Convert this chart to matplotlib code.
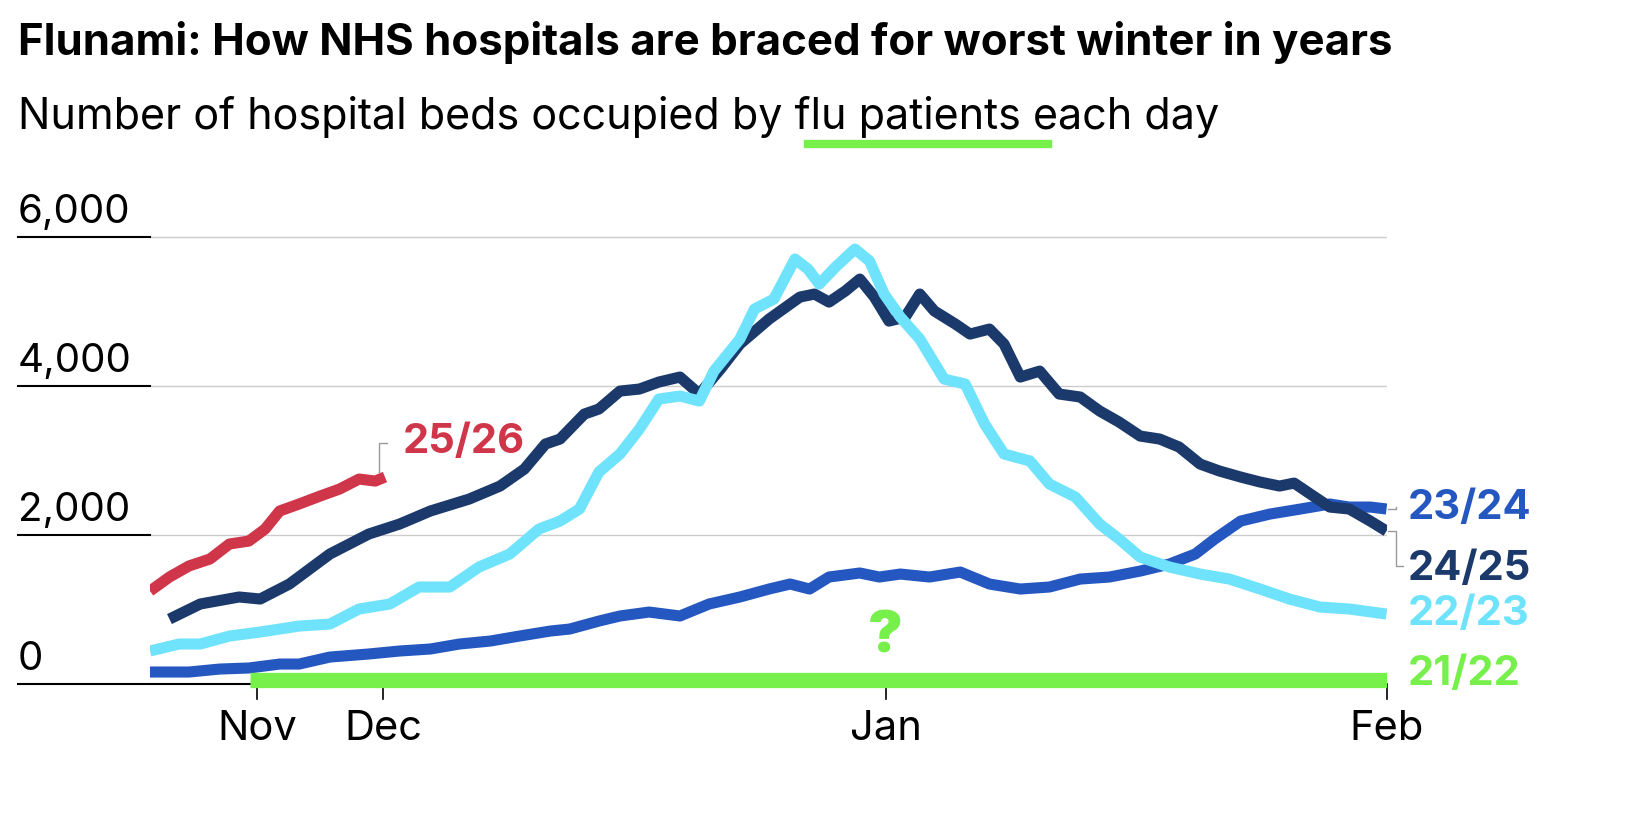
import matplotlib.pyplot as plt
from matplotlib.lines import Line2D

plt.rcParams['font.family'] = ['Inter', 'DejaVu Sans']

# days relative to 1 Jan (chart's own spacing), values = beds occupied
d2425 = [-44.2, -42.3, -39.9, -38.6, -36.8, -34.3, -31.9, -30, -28.1, -25.7, -23.8, -22.3, -21.0, -20.1, -18.6, -17.7,
         -16.4, -15.2, -14.0, -12.7, -11.5, -10.2, -9.0, -7.2, -5.3, -4.4, -3.5, -2.5, -1.6, -0.7, 0.2, 1.2, 2.1, 3.0,
         4.3, 5.2, 6.4, 7.3, 8.3, 9.5, 10.7, 12.0, 13.2, 14.4, 15.7, 16.9, 18.1, 19.4, 20.6, 21.9, 23.1, 24.3, 25.2,
         26.2, 27.4, 28.6, 29.9, 30.9]
v2425 = [872, 1074, 1168, 1141, 1342, 1745, 2013, 2147, 2322, 2483, 2657, 2885, 3221, 3288, 3623, 3691,
         3932, 3959, 4053, 4120, 3892, 4227, 4563, 4898, 5193, 5234, 5126, 5274, 5435, 5193, 4871, 4925, 5234, 5006,
         4831, 4697, 4764, 4563, 4120, 4200, 3892, 3852, 3664, 3516, 3328, 3288, 3181, 2952, 2858, 2778, 2711, 2657,
         2697, 2550, 2375, 2349, 2187, 2053]

d2223 = [-45.4, -43.6, -42.3, -40.5, -38.6, -36.2, -34.3, -32.5, -30.6, -28.8, -26.9, -25.1, -23.2, -21.4, -20.1,
         -18.9, -17.7, -16.4, -15.2, -14.0, -12.7, -11.5, -10.6, -9.0, -8.1, -6.9, -5.6, -4.8, -4.1, -3.1, -1.9, -1.0,
         -0.1, 0.9, 2.1, 3.6, 4.9, 6.1, 7.3, 8.9, 10.1, 11.7, 13.2, 14.4, 15.7, 17.5, 19.4, 21.2, 23.1, 24.9, 26.8,
         28.6, 30.9]
v2223 = [443, 537, 537, 644, 698, 778, 805, 1007, 1074, 1302, 1302, 1570, 1745, 2080, 2187,
         2349, 2845, 3087, 3422, 3825, 3865, 3798, 4200, 4630, 5033, 5167, 5704, 5569, 5368, 5596, 5838, 5677,
         5234, 4925, 4630, 4093, 4026, 3489, 3087, 2993, 2684, 2510, 2147, 1946, 1704, 1570, 1476, 1409, 1275, 1141,
         1033, 1007, 939]

d2324 = [-45.4, -43.0, -41.1, -39.3, -37.4, -36.2, -34.3, -31.9, -30, -28.1, -26.3, -24.4, -22.6, -20.7, -19.5,
         -17.7, -16.4, -14.6, -12.7, -10.9, -9.0, -7.2, -5.9, -4.7, -3.5, -1.6, -0.4, 0.9, 2.7, 4.6, 6.4, 8.3, 10.1,
         12.0, 13.8, 15.7, 17.5, 19.1, 20.3, 21.9, 23.7, 25.6, 27.4, 28.6, 29.9, 30.9]
v2324 = [161, 161, 201, 215, 268, 268, 362, 403, 443, 470, 537, 577, 644, 711, 738,
         845, 913, 966, 913, 1074, 1168, 1275, 1342, 1275, 1436, 1490, 1436, 1476, 1436, 1503, 1342, 1275, 1302,
         1409, 1436, 1516, 1610, 1745, 1946, 2187, 2281, 2349, 2416, 2375, 2375, 2349]

d2526 = [-45.4, -44.2, -43.0, -41.7, -40.5, -39.3, -38.3, -37.4, -36.2, -34.9, -33.7, -32.5, -31.5, -30.9]
v2526 = [1248, 1436, 1584, 1678, 1879, 1919, 2080, 2322, 2416, 2523, 2617, 2751, 2724, 2778]

d2122 = [-39.2, 30.9]
v2122 = [60, 60]

month_pos = [-38.8, -31.0, 0, 30.9]
month_lab = ['Nov', 'Dec', 'Jan', 'Feb']
yticks = [0, 2000, 4000, 6000]
ylabels = ['0', '2,000', '4,000', '6,000']

W, H = 1626, 820
fig = plt.figure(figsize=(W / 100, H / 100), dpi=100)
ax = fig.add_axes([150 / W, 1 - 700 / H, (1387 - 150) / W, 470 / H])
ax.set_xlim(-45.4, 30.93)
ax.set_ylim(-201, 6107)
for s in ax.spines.values():
    s.set_visible(False)
ax.set_xticks([])
ax.set_yticks([])

for y in yticks[1:]:
    ax.axhline(y, color='#cccccc', lw=1, zorder=0)
ax.axhline(0, color='black', lw=1.5, zorder=0)

navy, cyan, blue, red, green = '#1b3a6b', '#6fe3fb', '#2557c0', '#d0364a', '#77f04c'
kw = dict(lw=8, solid_capstyle='butt', solid_joinstyle='round')
ax.plot(d2324, v2324, color=blue, zorder=3, **kw)
ax.plot(d2425, v2425, color=navy, zorder=4, **kw)
ax.plot(d2223, v2223, color=cyan, zorder=5, **kw)
ax.plot(d2526, v2526, color=red, zorder=6, **kw)
ax.plot(d2122, v2122, color=green, lw=11, solid_capstyle='butt', zorder=7)

# tick marks and labels
for m, lab in zip(month_pos, month_lab):
    ax.plot([m, m], [-201, 0], color='black', lw=1.2, clip_on=False)
    ax.text(m, -330, lab, ha='center', va='top', fontsize=30)

for y, lab in zip(yticks, ylabels):
    fig.add_artist(Line2D([18 / W, 150 / W], [1 - (685 - y * 149 / 2000) / H] * 2, color='black', lw=1.5))
    ax.text(-45.4 - 132 / 16.2, y + 90, lab, ha='left', va='bottom', fontsize=29)

# series labels
ax.text(-29.8, 3260, '25/26', color=red, fontsize=30, fontweight='bold', va='center')
ax.plot([-31.3, -31.3, -30.8], [2850, 3230, 3230], color='#999999', lw=1, clip_on=False)
ax.text(32.2, 2370, '23/24', color=blue, fontsize=30, fontweight='bold', va='center')
ax.plot([31.0, 31.5, 31.5], [2349, 2349, 2380], color='#999999', lw=1, clip_on=False)
ax.text(32.2, 1560, '24/25', color=navy, fontsize=30, fontweight='bold', va='center')
ax.plot([31.0, 31.5, 31.5, 31.9], [2053, 2053, 1590, 1590], color='#999999', lw=1, clip_on=False)
ax.text(32.2, 950, '22/23', color=cyan, fontsize=30, fontweight='bold', va='center')
ax.text(32.2, 150, '21/22', color=green, fontsize=30, fontweight='bold', va='center')
ax.text(0, 640, '?', color=green, fontsize=42, fontweight='black', ha='center', va='center')

fig.text(18 / W, 1 - 42 / H, 'Flunami: How NHS hospitals are braced for worst winter in years',
         fontsize=31.5, fontweight='bold', va='center')
fig.text(18 / W, 1 - 117 / H, 'Number of hospital beds occupied by flu patients each day',
         fontsize=31, va='center')
fig.add_artist(Line2D([808 / W, 1048 / W], [1 - 145 / H] * 2, color=green, lw=6))

fig.savefig('out.png', dpi=100)
